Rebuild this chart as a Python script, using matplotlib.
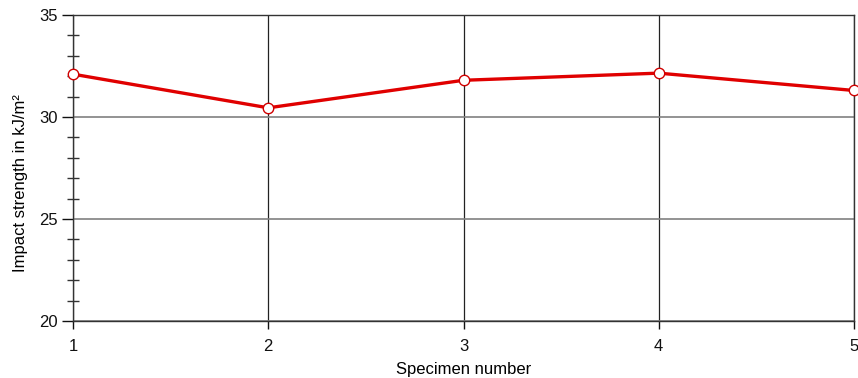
import matplotlib
matplotlib.use("Agg")
import matplotlib.pyplot as plt
from matplotlib.ticker import MultipleLocator

specimens = [1, 2, 3, 4, 5]
impact = [32.1, 30.45, 31.8, 32.15, 31.3]

plt.rcParams['font.family'] = ['Liberation Sans', 'DejaVu Sans']

fig = plt.figure(figsize=(8.58, 3.78), dpi=100)
ax = fig.add_axes([73/858, 57/378, 781/858, 306/378])

ax.set_xlim(1, 5)
ax.set_ylim(20, 35)
ax.set_xticks(specimens)
ax.yaxis.set_major_locator(MultipleLocator(5))
ax.yaxis.set_minor_locator(MultipleLocator(1))

ax.grid(True, axis='y', which='major', color='#808080', linewidth=1.2)
ax.grid(True, axis='x', which='major', color='#222222', linewidth=0.9)

ax.plot(specimens, impact, color='#e00000', linewidth=2.4, marker='o',
        markersize=7.5, markerfacecolor='white', markeredgecolor='#d00000',
        markeredgewidth=1.0, zorder=5, clip_on=False)

for s in ax.spines.values():
    s.set_color('#333333')
    s.set_linewidth(1.0)

ax.tick_params(axis='y', which='major', direction='out', length=8, width=1, labelsize=12, pad=3, colors='#111111')
ax.tick_params(axis='y', which='minor', direction='inout', length=8, width=1, colors='#333333')
ax.tick_params(axis='x', which='major', direction='out', length=6, width=1, labelsize=12, pad=7, colors='#111111')

ax.set_xlabel('Specimen number', fontsize=12, labelpad=6)
ax.set_ylabel('Impact strength in kJ/m²', fontsize=12)
ax.yaxis.set_label_coords(-0.058, 0.45)

fig.savefig('out.png', dpi=100)
